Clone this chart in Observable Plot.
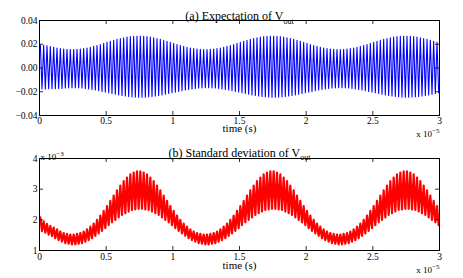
<!DOCTYPE html>
<html><head><meta charset="utf-8">
<script src="https://cdn.jsdelivr.net/npm/d3@7"></script>
<script src="https://cdn.jsdelivr.net/npm/@observablehq/plot@0.6"></script>
<style>
body{margin:0;background:#fff;}
#chart{width:463px;height:278px;overflow:hidden;}
#chart svg{display:block;}
</style></head><body><div id="chart"></div>
<script>
// time axis in units of 1e-5 s
const xTicks = [0, 0.5, 1, 1.5, 2, 2.5, 3];
const topYTicks = [-0.04, -0.02, 0, 0.02, 0.04];
const botYTicks = [1, 2, 3, 4]; // units of 1e-3
const cyclesPerUnit = 40;

// (a) expectation: per-cycle maxima and minima (V)
const expHi = [
0.0196,0.0192,0.0187,0.0181,0.0175,0.0169,0.0163,0.0159,0.0157,0.0155,0.0155,0.0157,0.0159,0.0163,0.0169,0.0175,0.0182,0.0190,0.0198,0.0207,
0.0216,0.0225,0.0233,0.0241,0.0248,0.0254,0.0260,0.0264,0.0266,0.0268,0.0268,0.0266,0.0264,0.0260,0.0254,0.0248,0.0241,0.0233,0.0225,0.0216,
0.0207,0.0198,0.0190,0.0182,0.0175,0.0169,0.0163,0.0159,0.0157,0.0155,0.0155,0.0157,0.0159,0.0163,0.0169,0.0175,0.0182,0.0190,0.0198,0.0207,
0.0216,0.0225,0.0233,0.0241,0.0248,0.0254,0.0260,0.0264,0.0266,0.0268,0.0268,0.0266,0.0264,0.0260,0.0254,0.0248,0.0241,0.0233,0.0225,0.0216,
0.0207,0.0198,0.0190,0.0182,0.0175,0.0169,0.0163,0.0159,0.0157,0.0155,0.0155,0.0157,0.0159,0.0163,0.0169,0.0175,0.0182,0.0190,0.0198,0.0207,
0.0216,0.0225,0.0233,0.0241,0.0248,0.0254,0.0260,0.0264,0.0266,0.0268,0.0268,0.0266,0.0264,0.0260,0.0254,0.0248,0.0241,0.0233,0.0225,0.0216
];
const expLo = [
-0.0176,-0.0176,-0.0175,-0.0175,-0.0174,-0.0173,-0.0172,-0.0169,-0.0167,-0.0166,-0.0166,-0.0167,-0.0169,-0.0172,-0.0176,-0.0180,-0.0185,-0.0191,-0.0197,-0.0203,
-0.0209,-0.0215,-0.0221,-0.0227,-0.0232,-0.0236,-0.0240,-0.0243,-0.0245,-0.0246,-0.0246,-0.0245,-0.0243,-0.0240,-0.0236,-0.0232,-0.0227,-0.0221,-0.0215,-0.0209,
-0.0203,-0.0197,-0.0191,-0.0185,-0.0180,-0.0176,-0.0172,-0.0169,-0.0167,-0.0166,-0.0166,-0.0167,-0.0169,-0.0172,-0.0176,-0.0180,-0.0185,-0.0191,-0.0197,-0.0203,
-0.0209,-0.0215,-0.0221,-0.0227,-0.0232,-0.0236,-0.0240,-0.0243,-0.0245,-0.0246,-0.0246,-0.0245,-0.0243,-0.0240,-0.0236,-0.0232,-0.0227,-0.0221,-0.0215,-0.0209,
-0.0203,-0.0197,-0.0191,-0.0185,-0.0180,-0.0176,-0.0172,-0.0169,-0.0167,-0.0166,-0.0166,-0.0167,-0.0169,-0.0172,-0.0176,-0.0180,-0.0185,-0.0191,-0.0197,-0.0203,
-0.0209,-0.0215,-0.0221,-0.0227,-0.0232,-0.0236,-0.0240,-0.0243,-0.0245,-0.0246,-0.0246,-0.0245,-0.0243,-0.0240,-0.0236,-0.0232,-0.0227,-0.0221,-0.0215,-0.0209
];

// (b) standard deviation: per-cycle maxima and minima (units of 1e-3 V)
const stdHi = [
2.08,1.95,1.87,1.80,1.75,1.69,1.62,1.57,1.54,1.52,1.52,1.54,1.57,1.62,1.69,1.78,1.88,2.00,2.14,2.29,
2.45,2.62,2.79,2.96,3.12,3.26,3.38,3.48,3.54,3.58,3.58,3.54,3.48,3.38,3.26,3.12,2.96,2.79,2.62,2.45,
2.29,2.14,2.00,1.88,1.78,1.69,1.62,1.57,1.54,1.52,1.52,1.54,1.57,1.62,1.69,1.78,1.88,2.00,2.14,2.29,
2.45,2.62,2.79,2.96,3.12,3.26,3.38,3.48,3.54,3.58,3.58,3.54,3.48,3.38,3.26,3.12,2.96,2.79,2.62,2.45,
2.29,2.14,2.00,1.88,1.78,1.69,1.62,1.57,1.54,1.52,1.52,1.54,1.57,1.62,1.69,1.78,1.88,2.00,2.14,2.29,
2.45,2.62,2.79,2.96,3.12,3.26,3.38,3.48,3.54,3.58,3.58,3.54,3.48,3.38,3.26,3.12,2.96,2.79,2.62,2.45
];
const stdLo = [
1.63,1.58,1.52,1.47,1.40,1.34,1.29,1.24,1.22,1.20,1.20,1.22,1.24,1.29,1.34,1.40,1.48,1.56,1.64,1.73,
1.83,1.92,2.00,2.08,2.16,2.22,2.27,2.32,2.34,2.36,2.36,2.34,2.32,2.27,2.22,2.16,2.08,2.00,1.92,1.83,
1.73,1.64,1.56,1.48,1.40,1.34,1.29,1.24,1.22,1.20,1.20,1.22,1.24,1.29,1.34,1.40,1.48,1.56,1.64,1.73,
1.83,1.92,2.00,2.08,2.16,2.22,2.27,2.32,2.34,2.36,2.36,2.34,2.32,2.27,2.22,2.16,2.08,2.00,1.92,1.83,
1.73,1.64,1.56,1.48,1.40,1.34,1.29,1.24,1.22,1.20,1.20,1.22,1.24,1.29,1.34,1.40,1.48,1.56,1.64,1.73,
1.83,1.92,2.00,2.08,2.16,2.22,2.27,2.32,2.34,2.36,2.36,2.34,2.32,2.27,2.22,2.16,2.08,2.00,1.92,1.83
];

function zigzag(hi, lo) {
  const out = [];
  hi.forEach((h, k) => {
    out.push({t: (k + 0.25) / cyclesPerUnit, v: h});
    out.push({t: (k + 0.75) / cyclesPerUnit, v: lo[k]});
  });
  return out;
}
const expData = zigzag(expHi, expLo);
const stdData = zigzag(stdHi, stdLo);

const FONT = "'Liberation Serif','Times New Roman',serif";
const W = 463, ML = 39, MR = 24;

function frameTicks(fw, fh, yTicks, tl) {
  return [
    Plot.tickX(xTicks, {x: d => d, insetTop: fh - tl, stroke: "black", strokeWidth: 0.8}),
    Plot.tickX(xTicks, {x: d => d, insetBottom: fh - tl, stroke: "black", strokeWidth: 0.8}),
    Plot.tickY(yTicks, {y: d => d, insetRight: fw - tl, stroke: "black", strokeWidth: 0.8}),
    Plot.tickY(yTicks, {y: d => d, insetLeft: fw - tl, stroke: "black", strokeWidth: 0.8})
  ];
}

const H1 = 139, MT1 = 20, MB1 = 24;
const topPlot = Plot.plot({
  width: W, height: H1, marginTop: MT1, marginBottom: MB1, marginLeft: ML, marginRight: MR,
  style: {fontFamily: FONT, fontSize: "9.5px", background: "white", color: "black"},
  x: {domain: [0, 3], ticks: xTicks, tickSize: 0, tickPadding: 2, label: null, tickFormat: d => String(d)},
  y: {domain: [-0.04, 0.04], ticks: topYTicks, tickSize: 0, tickPadding: 2, label: null},
  marks: [
    Plot.line(expData, {x: "t", y: "v", stroke: "#0000ff", strokeWidth: 1.1}),
    ...frameTicks(W - ML - MR, H1 - MT1 - MB1, topYTicks, 4),
    Plot.frame({stroke: "black", strokeWidth: 1}),
    Plot.text(["(a) Expectation of V"], {text: d => d, frameAnchor: "top", dy: -9, fontSize: 12}),
    Plot.text(["time (s)"], {text: d => d, frameAnchor: "bottom", dy: 16.5, fontSize: 11}),
    Plot.text(["x 10"], {text: d => d, frameAnchor: "bottom-right", textAnchor: "end", dy: 21, fontSize: 9})
  ]
});

const H2 = 139, MT2 = 19, MB2 = 28;
const botPlot = Plot.plot({
  width: W, height: H2, marginTop: MT2, marginBottom: MB2, marginLeft: ML, marginRight: MR,
  style: {fontFamily: FONT, fontSize: "9.5px", background: "white", color: "black"},
  x: {domain: [0, 3], ticks: xTicks, tickSize: 0, tickPadding: 3, label: null, tickFormat: d => String(d)},
  y: {domain: [1, 4], ticks: botYTicks, tickSize: 0, tickPadding: 2, label: null, tickFormat: d => String(d)},
  marks: [
    Plot.line(stdData, {x: "t", y: "v", stroke: "#ff0000", strokeWidth: 2.2}),
    ...frameTicks(W - ML - MR, H2 - MT2 - MB2, botYTicks, 4),
    Plot.frame({stroke: "black", strokeWidth: 1}),
    Plot.text(["(b) Standard deviation of V"], {text: d => d, frameAnchor: "top", dy: -10.5, fontSize: 12}),
    Plot.text(["x 10 "], {text: d => d, frameAnchor: "top-left", textAnchor: "start", dx: 1, dy: -5, fontSize: 9}),
    Plot.text(["time (s)"], {text: d => d, frameAnchor: "bottom", dy: 18.5, fontSize: 11}),
    Plot.text(["x 10"], {text: d => d, frameAnchor: "bottom-right", textAnchor: "end", dy: 22, fontSize: 9})
  ]
});

function addScripts(svg, map) {
  d3.select(svg).selectAll("text").each(function() {
    const s = this.textContent;
    if (map[s]) {
      const [txt, dy, fs] = map[s];
      if (s === "x 10 ") this.textContent = "x 10";
      d3.select(this).append("tspan").attr("dy", dy).attr("font-size", fs).text(txt);
    }
  });
}
addScripts(topPlot, {"(a) Expectation of V": ["out", 3.5, 8], "x 10": ["\u22125", -4, 7]});
addScripts(botPlot, {"(b) Standard deviation of V": ["out", 3.5, 8], "x 10": ["\u22125", -4, 7], "x 10 ": ["\u22123", -4, 7]});

document.getElementById("chart").append(topPlot, botPlot);
</script></body></html>
